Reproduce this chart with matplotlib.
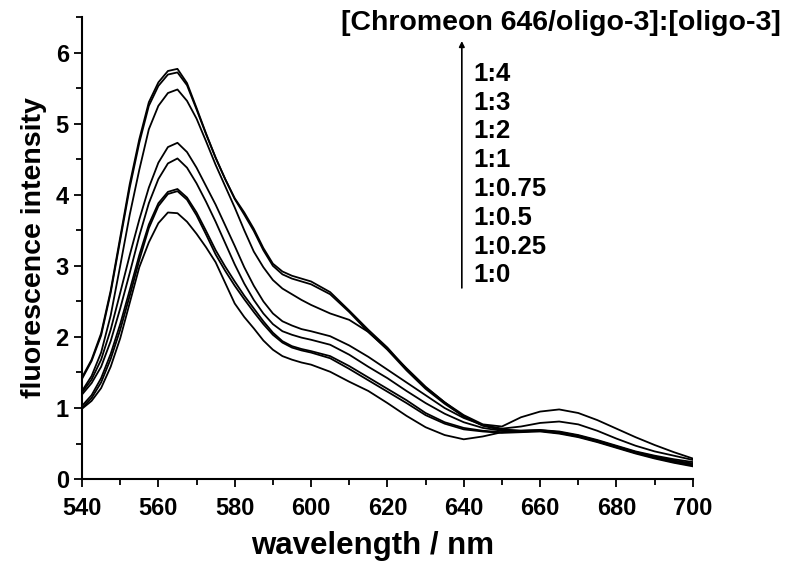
import numpy as np
import matplotlib
matplotlib.use("Agg")
import matplotlib.pyplot as plt
from matplotlib.ticker import MultipleLocator

plt.rcParams['font.family'] = ['Liberation Sans', 'DejaVu Sans']
plt.rcParams['font.weight'] = 'bold'

# wavelength grid (nm): 2.5 nm steps up to 600, then 5 nm
wl = [540, 542.5, 545, 547.5, 550, 552.5, 555, 557.5, 560, 562.5, 565, 567.5,
      570, 572.5, 575, 577.5, 580, 582.5, 585, 587.5, 590, 592.5, 595, 597.5,
      600, 605, 610, 615, 620, 625, 630, 635, 640, 645, 650, 655, 660, 665,
      670, 675, 680, 685, 690, 695, 700]

# spectra, highest peak first
sA = [1.43, 1.68, 2.05, 2.65, 3.40, 4.15, 4.78, 5.30, 5.58, 5.74, 5.77, 5.57,
      5.22, 4.86, 4.52, 4.22, 3.95, 3.75, 3.52, 3.25, 3.03, 2.92, 2.86, 2.82,
      2.78, 2.63, 2.37, 2.10, 1.85, 1.55, 1.29, 1.08, 0.90, 0.77, 0.74, 0.87,
      0.95, 0.98, 0.93, 0.83, 0.71, 0.59, 0.48, 0.38, 0.29]
sB = [1.41, 1.66, 2.02, 2.62, 3.36, 4.10, 4.73, 5.25, 5.53, 5.69, 5.72, 5.54,
      5.20, 4.85, 4.52, 4.22, 3.94, 3.72, 3.49, 3.22, 3.00, 2.88, 2.82, 2.78,
      2.74, 2.60, 2.35, 2.07, 1.82, 1.53, 1.27, 1.06, 0.88, 0.76, 0.71, 0.74,
      0.79, 0.81, 0.77, 0.68, 0.57, 0.47, 0.39, 0.33, 0.27]
sC = [1.24, 1.45, 1.78, 2.30, 3.00, 3.72, 4.35, 4.92, 5.25, 5.43, 5.48, 5.32,
      5.07, 4.75, 4.42, 4.12, 3.82, 3.50, 3.20, 2.98, 2.80, 2.68, 2.60, 2.52,
      2.45, 2.33, 2.24, 2.07, 1.83, 1.56, 1.30, 1.08, 0.88, 0.75, 0.69, 0.68,
      0.69, 0.67, 0.62, 0.55, 0.47, 0.39, 0.33, 0.28, 0.24]
sD = [1.22, 1.40, 1.68, 2.10, 2.62, 3.15, 3.65, 4.10, 4.45, 4.67, 4.73, 4.60,
      4.38, 4.12, 3.86, 3.57, 3.28, 2.98, 2.72, 2.50, 2.33, 2.22, 2.16, 2.11,
      2.08, 2.01, 1.88, 1.72, 1.54, 1.36, 1.18, 1.00, 0.86, 0.76, 0.70, 0.68,
      0.68, 0.66, 0.61, 0.54, 0.46, 0.38, 0.32, 0.26, 0.22]
sE = [1.19, 1.35, 1.58, 1.94, 2.40, 2.90, 3.42, 3.88, 4.22, 4.44, 4.51, 4.38,
      4.16, 3.90, 3.62, 3.32, 3.02, 2.75, 2.52, 2.33, 2.18, 2.08, 2.03, 1.99,
      1.96, 1.89, 1.75, 1.58, 1.42, 1.24, 1.07, 0.92, 0.80, 0.72, 0.68, 0.67,
      0.68, 0.65, 0.60, 0.53, 0.45, 0.37, 0.31, 0.26, 0.21]
sF = [1.03, 1.18, 1.42, 1.76, 2.18, 2.66, 3.15, 3.58, 3.88, 4.04, 4.08, 3.96,
      3.75, 3.49, 3.22, 2.99, 2.78, 2.58, 2.40, 2.22, 2.06, 1.94, 1.87, 1.83,
      1.80, 1.73, 1.59, 1.43, 1.27, 1.11, 0.93, 0.80, 0.72, 0.68, 0.66, 0.67,
      0.68, 0.65, 0.60, 0.53, 0.45, 0.37, 0.30, 0.24, 0.19]
sG = [1.00, 1.14, 1.36, 1.69, 2.10, 2.58, 3.08, 3.53, 3.84, 4.01, 4.05, 3.93,
      3.71, 3.44, 3.16, 2.93, 2.72, 2.53, 2.35, 2.18, 2.03, 1.92, 1.85, 1.81,
      1.78, 1.70, 1.55, 1.39, 1.23, 1.07, 0.90, 0.78, 0.70, 0.67, 0.65, 0.66,
      0.67, 0.64, 0.59, 0.52, 0.44, 0.36, 0.29, 0.23, 0.18]
sH = [0.99, 1.10, 1.28, 1.58, 1.98, 2.48, 2.98, 3.33, 3.60, 3.75, 3.74, 3.62,
      3.45, 3.26, 3.05, 2.76, 2.47, 2.28, 2.12, 1.95, 1.82, 1.73, 1.68, 1.64,
      1.61, 1.51, 1.37, 1.24, 1.07, 0.89, 0.73, 0.62, 0.56, 0.60, 0.66, 0.68,
      0.69, 0.66, 0.61, 0.54, 0.46, 0.38, 0.31, 0.25, 0.20]

ratios = ['1:4', '1:3', '1:2', '1:1', '1:0.75', '1:0.5', '1:0.25', '1:0']
header = '[Chromeon 646/oligo-3]:[oligo-3]'

fig = plt.figure(figsize=(7.85, 5.65), dpi=100)
ax = fig.add_axes([0.1045, 0.152, 0.778, 0.818])

for s in [sA, sB, sC, sD, sE, sF, sG, sH]:
    ax.plot(wl, s, color='black', lw=1.3, solid_joinstyle='round')

ax.set_xlim(540, 700)
ax.set_ylim(0, 6.5)
ax.xaxis.set_major_locator(MultipleLocator(20))
ax.xaxis.set_minor_locator(MultipleLocator(10))
ax.yaxis.set_major_locator(MultipleLocator(1))
ax.yaxis.set_minor_locator(MultipleLocator(0.5))
ax.spines['top'].set_visible(False)
ax.spines['right'].set_visible(False)
for sp in ['left', 'bottom']:
    ax.spines[sp].set_linewidth(1.5)
ax.tick_params(which='major', direction='out', length=6, width=1.3, labelsize=17)
ax.tick_params(axis='x', which='major', pad=7)
ax.tick_params(which='minor', direction='out', length=4, width=1.3)
for lab in ax.get_xticklabels() + ax.get_yticklabels():
    lab.set_fontweight('bold')

ax.set_xlabel('wavelength / nm', fontsize=22.5, fontweight='bold')
ax.xaxis.set_label_coords(0.476, -0.113)
ax.set_ylabel('fluorescence intensity', fontsize=20.5, fontweight='bold', labelpad=6)

# annotation block
ax.text(665.5, 6.42, header, fontsize=20.5, fontweight='bold', ha='center', va='center',
        clip_on=False)
ax.annotate('', xy=(639.5, 6.2), xytext=(639.5, 2.65),
            arrowprops=dict(arrowstyle='-|>', color='black', lw=1.2, mutation_scale=8))
for i, r in enumerate(ratios):
    ax.text(642.5, 5.70 - i * 0.405, r, fontsize=18.5, fontweight='bold',
            ha='left', va='center')

fig.savefig('out.png', dpi=100)
